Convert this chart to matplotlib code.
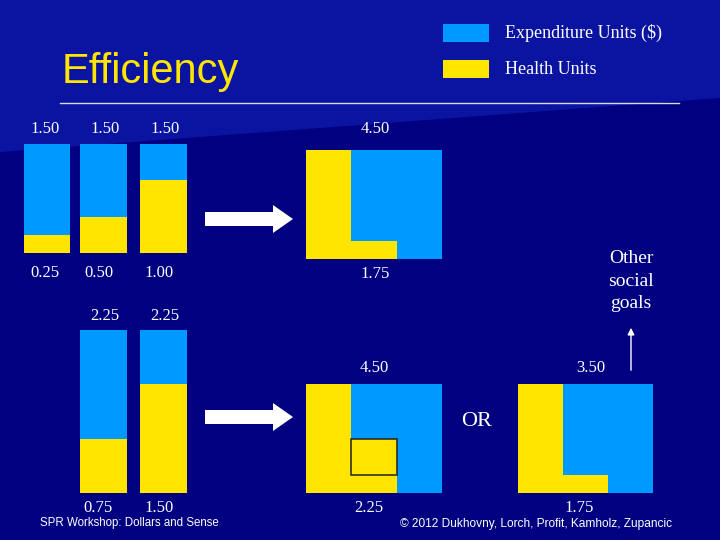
import matplotlib
matplotlib.use("Agg")
import matplotlib.pyplot as plt
from matplotlib.patches import Rectangle, Polygon, FancyArrow

# ---------------- data ----------------
title = "Efficiency"
legend_labels = ["Expenditure Units ($)", "Health Units"]
top_expenditure = [1.50, 1.50, 1.50]
top_health = [0.25, 0.50, 1.00]
top_pooled_expenditure = [1.50, 1.50, 1.50]
top_pooled_health = [1.50, 0.25, 0.00]
bottom_expenditure = [2.25, 2.25]
bottom_health = [0.75, 1.50]
pooled_a_expenditure = [1.50, 1.50, 1.50]
pooled_a_health = [1.50, 0.75, 0.00]
pooled_a_highlight = [0.25, 0.50]      # base, height of outlined gain (column 2)
pooled_b_expenditure = [1.50, 1.50, 1.50]
pooled_b_health = [1.50, 0.25, 0.00]
pooled_b_spent = 3.50
other_goals = "Other\nsocial\ngoals"
or_label = "OR"
footer_left = "SPR Workshop: Dollars and Sense"
footer_right = "\u00a9 2012 Dukhovny, Lorch, Profit, Kamholz, Zupancic"

# ---------------- style ----------------
BLUE = "#0099ff"
YELLOW = "#ffe500"
NAVY = "#000080"
UPPER = "#0a14a0"
SERIF = ["Liberation Serif", "DejaVu Serif"]
SANS = ["Liberation Sans", "DejaVu Sans"]
W, H = 720, 540

fig = plt.figure(figsize=(7.2, 5.4), dpi=100)
fig.patch.set_facecolor(NAVY)
bg = fig.add_axes([0, 0, 1, 1])
bg.set_xlim(0, W)
bg.set_ylim(H, 0)
bg.axis("off")
bg.add_patch(Polygon([(0, 0), (W, 0), (W, 98), (0, 152)], closed=True,
                     facecolor=UPPER, edgecolor="none"))

# title, rule, legend
bg.text(62, 72, title, color=YELLOW, fontsize=30, family=SANS, va="center", ha="left")
bg.plot([60, 679], [103, 103], color="#d8d8f0", lw=1)
for y, c, lab in [(33, BLUE, legend_labels[0]), (69, YELLOW, legend_labels[1])]:
    bg.add_patch(Rectangle((443, y - 9), 46, 18, facecolor=c, edgecolor="none"))
    bg.text(505, y, lab, color="white", fontsize=13, family=SERIF, va="center", ha="left")


def panel(x0, x1, y_top, y_bot, units, ncols, exp, health, centers=None, width=None):
    ax = fig.add_axes([x0 / W, 1 - y_bot / H, (x1 - x0) / W, (y_bot - y_top) / H])
    ax.set_xlim(x0, x1)
    ax.set_ylim(0, units)
    ax.axis("off")
    ax.patch.set_alpha(0)
    if centers is None:
        width = (x1 - x0) / ncols
        centers = [x0 + width * (i + 0.5) for i in range(ncols)]
    ax.bar(centers, exp, width=width, color=BLUE, linewidth=0)
    ax.bar(centers, health, width=width, color=YELLOW, linewidth=0)
    return ax, centers, width


# top-left individual bars
panel(24, 187, 144, 253, 1.5, 3, top_expenditure, top_health,
      centers=[47, 103.5, 163.5], width=46.5)
for x, v in zip([45, 105, 165], top_expenditure):
    bg.text(x, 129, f"{v:.2f}", color="white", fontsize=12, family=SERIF, ha="center", va="center")
for x, v in zip([45, 99, 159], top_health):
    bg.text(x, 273, f"{v:.2f}", color="white", fontsize=12, family=SERIF, ha="center", va="center")

# top pooled
panel(306, 442, 150, 259, 1.5, 3, top_pooled_expenditure, top_pooled_health)
bg.text(375, 129, f"{sum(top_pooled_expenditure):.2f}", color="white", fontsize=12,
        family=SERIF, ha="center", va="center")
bg.text(375, 274, f"{sum(top_pooled_health):.2f}", color="white", fontsize=12,
        family=SERIF, ha="center", va="center")

# bottom-left bars
panel(80, 187, 330, 493, 2.25, 2, bottom_expenditure, bottom_health,
      centers=[103.5, 163.5], width=46.5)
for x, v in zip([105, 165], bottom_expenditure):
    bg.text(x, 316, f"{v:.2f}", color="white", fontsize=12, family=SERIF, ha="center", va="center")
for x, v in zip([98.5, 159], bottom_health):
    bg.text(x, 508, f"{v:.2f}", color="white", fontsize=12, family=SERIF, ha="center", va="center")

# bottom pooled A
axA, cA, wA = panel(306, 442, 384, 493, 1.5, 3, pooled_a_expenditure, pooled_a_health)
axA.add_patch(Rectangle((cA[1] - wA / 2, pooled_a_highlight[0]), wA, pooled_a_highlight[1],
                        facecolor="none", edgecolor="#202020", lw=1.1))
bg.text(374.5, 368.5, f"{sum(pooled_a_expenditure):.2f}", color="white", fontsize=12,
        family=SERIF, ha="center", va="center")
bg.text(368.5, 507.5, f"{sum(pooled_a_health):.2f}", color="white", fontsize=12,
        family=SERIF, ha="center", va="center")

# bottom pooled B
panel(518, 653, 384, 493, 1.5, 3, pooled_b_expenditure, pooled_b_health)
bg.text(591, 368.5, f"{pooled_b_spent:.2f}", color="white", fontsize=12,
        family=SERIF, ha="center", va="center")
bg.text(579, 508.5, f"{sum(pooled_b_health):.2f}", color="white", fontsize=12,
        family=SERIF, ha="center", va="center")

bg.text(477, 422, or_label, color="white", fontsize=16, family=SERIF, ha="center", va="center")

# big arrows
for yc in (219, 417):
    bg.add_patch(FancyArrow(205, yc, 88, 0, width=14, head_width=28, head_length=20,
                            length_includes_head=True, color="white", lw=0))

# other social goals
bg.text(631, 281, other_goals, color="white", fontsize=14, family=SERIF,
        ha="center", va="center", linespacing=1.45)
bg.annotate("", xy=(631, 325), xytext=(631, 373),
            arrowprops=dict(arrowstyle="-|>", color="white", lw=1, mutation_scale=10))

# footers
bg.text(40, 523, footer_left, color="white", fontsize=8.3, family=SANS, ha="left", va="center")
bg.text(400, 523.5, footer_right, color="white", fontsize=8.6, family=SANS, ha="left", va="center")

fig.savefig("out.png", dpi=100, facecolor=NAVY)
